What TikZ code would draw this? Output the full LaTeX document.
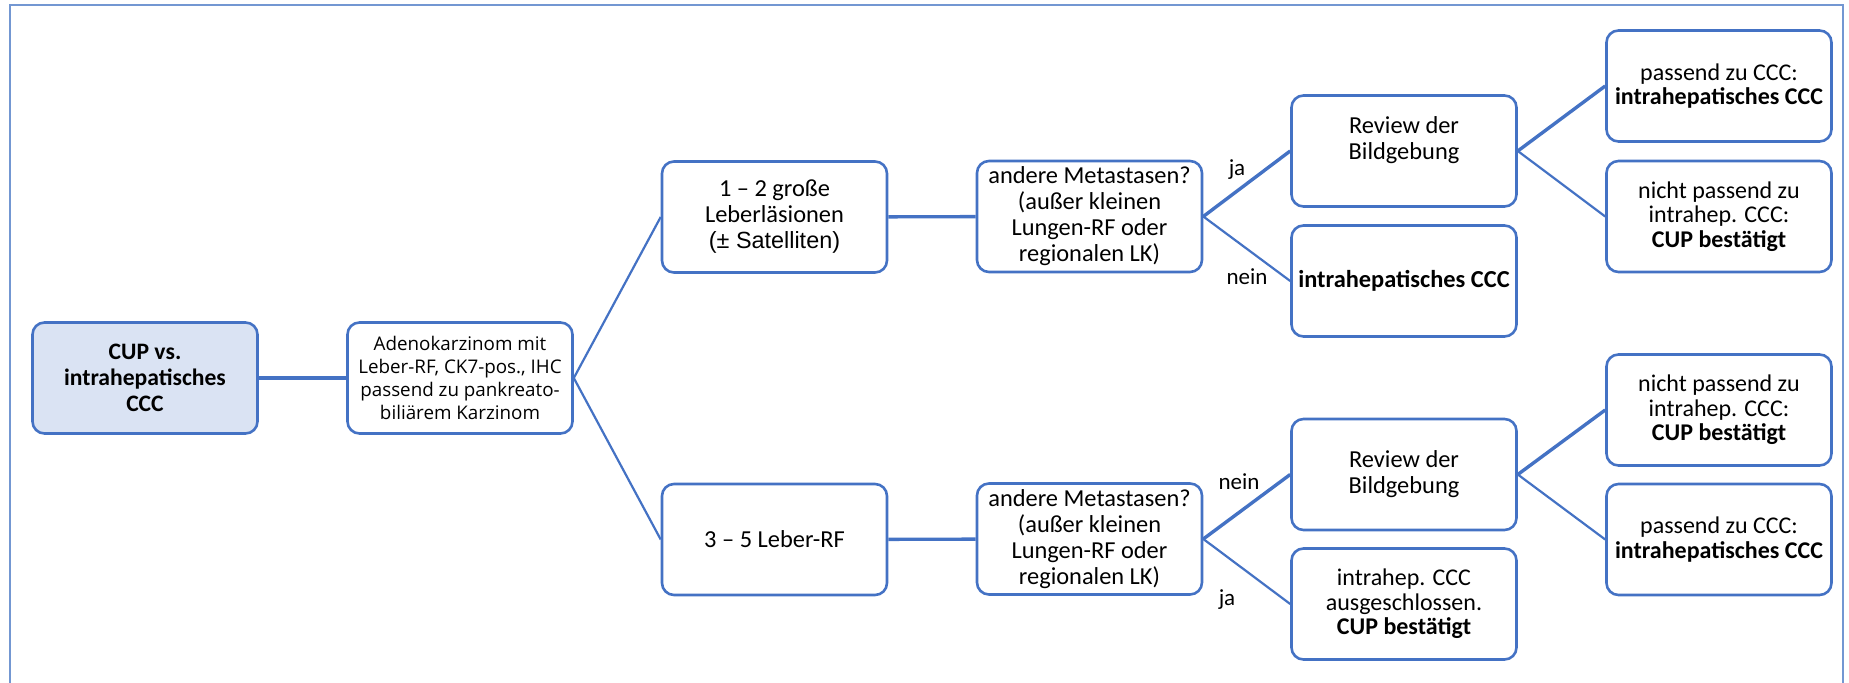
\documentclass[tikz,border=0pt]{standalone}
\usepackage{fontspec}
\setmainfont{Carlito}
\newfontfamily\opensans{Open Sans}
\newfontfamily\arialfont{Liberation Sans}
\definecolor{boxblue}{HTML}{4472C4}
\definecolor{frameblue}{HTML}{7397D2}
\definecolor{cupfill}{HTML}{DAE3F3}

\begin{document}
\begin{tikzpicture}[x=0.5pt, y=-0.5pt,
  box/.style={draw=boxblue, line width=1.3pt, rounded corners=6pt, minimum width=112.5pt, minimum height=55.5pt, align=center, inner sep=2pt, font=\fontsize{12.2}{13}\selectfont},
  endbox/.style={box, font=\fontsize{12}{12.2}\selectfont},
  link/.style={draw=boxblue, line width=1.1pt},
  boldlink/.style={draw=boxblue, line width=1.7pt},
  answer/.style={font=\fontsize{11.5}{13}\selectfont}]
\useasboundingbox (0,0) rectangle (1849,683);
\draw[frameblue, line width=0.8pt] (10,700) -- (10,5) -- (1843,5) -- (1843,700);

\node (cup)[box, fill=cupfill, font=\fontsize{11.8}{13}\selectfont\bfseries] at (145,378) {CUP vs.\\intrahepatisches\\CCC};
\node (adeno)[box, font=\opensans\fontsize{9.4}{11.6}\selectfont] at (460,378) {Adenokarzinom mit\\Leber-RF, CK7-pos., IHC\\passend zu pankreato-\\biliärem Karzinom};
\node (big)[box] at (774.5,217) {1 – 2 große\\Leberläsionen\\{\arialfont\fontsize{11.7}{13}\selectfont(± Satelliten)}};
\node (few)[box] at (774.5,539.5) {3 – 5 Leber-RF};
\node (metA)[box] at (1089.5,216.5) {andere Metastasen?\\(außer kleinen\\Lungen-RF oder\\regionalen LK)};
\node (metB)[box] at (1089.5,539) {andere Metastasen?\\(außer kleinen\\Lungen-RF oder\\regionalen LK)};
\node (revA)[box] at (1404,151) {Review der\\Bildgebung\\\mbox{}};
\node (cccA)[box] at (1404,281) {\textbf{intrahepatisches CCC}};
\node (revB)[box] at (1404,474.5) {Review der\\Bildgebung};
\node (cupB)[endbox] at (1404,604) {intrahep. CCC\\ausgeschlossen.\\\textbf{CUP bestätigt}};
\node (fitA)[endbox] at (1719,86) {passend zu CCC:\\\textbf{intrahepatisches CCC}};
\node (nofitA)[endbox] at (1719,216.5) {nicht passend zu\\intrahep. CCC:\\\textbf{CUP bestätigt}};
\node (nofitB)[endbox] at (1719,410) {nicht passend zu\\intrahep. CCC:\\\textbf{CUP bestätigt}};
\node (fitB)[endbox] at (1719,539.5) {passend zu CCC:\\\textbf{intrahepatisches CCC}};

\node (jaA)[answer] at (1237,170) {ja};
\node (neinA)[answer] at (1247,277) {nein};
\node (neinB)[answer] at (1239,482) {nein};
\node (jaB)[answer] at (1227,600) {ja};

\draw[boldlink] (cup) -- (adeno);
\draw[link] (adeno.east) -- (big.west);
\draw[link] (adeno.east) -- (few.west);
\draw[boldlink] (big) -- (metA);
\draw[boldlink] (few) -- (metB);
\draw[boldlink] (metA.east) -- (revA.west);
\draw[link] (metA.east) -- (cccA.west);
\draw[boldlink] (metB.east) -- (revB.west);
\draw[link] (metB.east) -- (cupB.west);
\draw[boldlink] (revA.east) -- (fitA.west);
\draw[link] (revA.east) -- (nofitA.west);
\draw[boldlink] (revB.east) -- (nofitB.west);
\draw[link] (revB.east) -- (fitB.west);
\end{tikzpicture}
\end{document}
